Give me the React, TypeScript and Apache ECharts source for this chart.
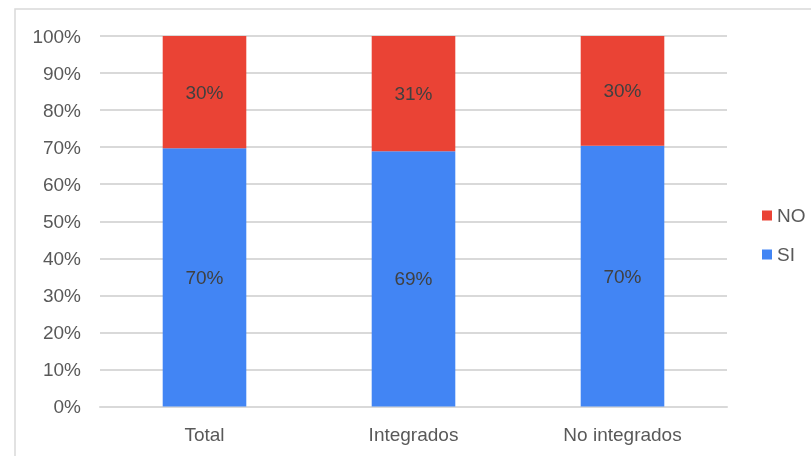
import React, { useEffect, useRef } from "react";
import * as echarts from "echarts";

const categories = ["Total", "Integrados", "No integrados"];
const siValues = [69.7, 68.9, 70.4];
const noValues = [30.3, 31.1, 29.6];
const yTicks = [0, 10, 20, 30, 40, 50, 60, 70, 80, 90, 100];

const FONT = "'Liberation Sans', Arial, sans-serif";

export default function App() {
  const ref = useRef<HTMLDivElement>(null);
  useEffect(() => {
    if (!ref.current) return;
    const chart = echarts.init(ref.current, null, { renderer: "svg" });
    const label = {
      show: true,
      position: "inside",
      color: "#404040",
      fontSize: 19,
      fontFamily: FONT,
      formatter: (p: any) => Math.round(p.value) + "%",
    };
    chart.setOption({
      animation: false,
      textStyle: { fontFamily: FONT },
      graphic: [
        {
          type: "rect",
          shape: { x: 15, y: 9, width: 900, height: 600 },
          style: { fill: "none", stroke: "#d9d9d9", lineWidth: 1.5 },
          silent: true,
        },
      ],
      grid: { left: 100, right: 84, top: 36, bottom: 49.5, containLabel: false },
      legend: {
        orient: "vertical",
        left: 762,
        top: 206,
        itemWidth: 10,
        itemHeight: 10,
        itemGap: 20,
        icon: "rect",
        data: ["NO", "SI"],
        textStyle: { color: "#595959", fontSize: 19, fontFamily: FONT, padding: [0, 0, 0, 0] },
        padding: 0,
      },
      xAxis: {
        type: "category",
        data: categories,
        axisLine: { show: true, lineStyle: { color: "#d9d9d9", width: 2 } },
        axisTick: { show: false },
        axisLabel: { color: "#595959", fontSize: 19, fontFamily: FONT, margin: 18 },
      },
      yAxis: {
        type: "value",
        min: yTicks[0],
        max: yTicks[yTicks.length - 1],
        interval: 10,
        axisLine: { show: false },
        axisTick: { show: false },
        splitLine: { lineStyle: { color: "#d9d9d9", width: 2 } },
        axisLabel: {
          color: "#595959",
          fontSize: 19,
          fontFamily: FONT,
          margin: 19,
          formatter: (v: number) => v + "%",
        },
      },
      series: [
        {
          name: "SI",
          type: "bar",
          stack: "total",
          data: siValues,
          barWidth: "40%",
          itemStyle: { color: "#4285F4" },
          label,
        },
        {
          name: "NO",
          type: "bar",
          stack: "total",
          data: noValues,
          barWidth: "40%",
          itemStyle: { color: "#EA4335" },
          label,
        },
      ],
    });
    return () => chart.dispose();
  }, []);
  return (
    <div
      ref={ref}
      style={{ position: "fixed", left: 0, top: 0, width: 811, height: 456 }}
    />
  );
}
